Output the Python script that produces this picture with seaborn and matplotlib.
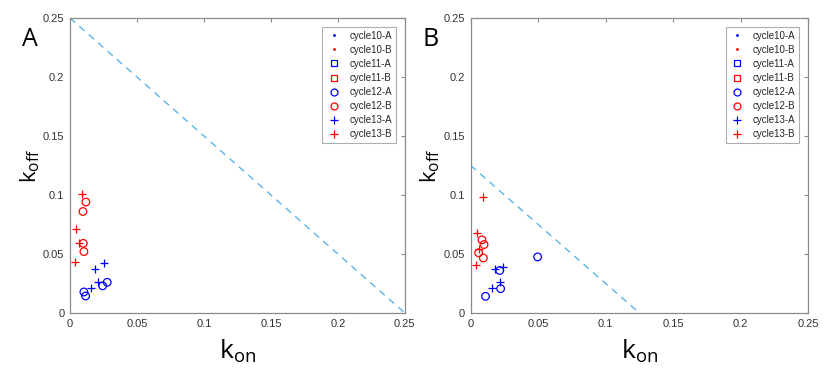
import pandas as pd
import seaborn as sns
import matplotlib.pyplot as plt
from matplotlib.lines import Line2D

# panel A values
a_c12A_kon = [0.0278, 0.0244, 0.0104, 0.0117]
a_c12A_koff = [0.026, 0.023, 0.0178, 0.0144]
a_c12B_kon = [0.0119, 0.0097, 0.0099, 0.0104]
a_c12B_koff = [0.094, 0.086, 0.059, 0.052]
a_c13A_kon = [0.0256, 0.0184, 0.0209, 0.0157]
a_c13A_koff = [0.042, 0.037, 0.0265, 0.0215]
a_c13B_kon = [0.0092, 0.0045, 0.0067, 0.0040]
a_c13B_koff = [0.101, 0.071, 0.059, 0.043]

# panel B
b_c12A_kon = [0.0496, 0.0215, 0.0222, 0.0110]
b_c12A_koff = [0.0475, 0.036, 0.0206, 0.0141]
b_c12B_kon = [0.0084, 0.0099, 0.0059, 0.0094]
b_c12B_koff = [0.062, 0.058, 0.051, 0.0466]
b_c13A_kon = [0.0180, 0.0237, 0.0215, 0.0158]
b_c13A_koff = [0.037, 0.0387, 0.0265, 0.0215]
b_c13B_kon = [0.0094, 0.0047, 0.0062, 0.0042]
b_c13B_koff = [0.0986, 0.068, 0.054, 0.041]

a_line = 0.25
b_line = 0.125
ticks = [0, 0.05, 0.1, 0.15, 0.2, 0.25]
tick_labels = ['0', '0.05', '0.1', '0.15', '0.2', '0.25']
legend_names = ['cycle10-A', 'cycle10-B', 'cycle11-A', 'cycle11-B',
                'cycle12-A', 'cycle12-B', 'cycle13-A', 'cycle13-B']

sns.set_style('white')
plt.rcParams['font.family'] = ['Liberation Sans', 'DejaVu Sans']

BLUE = '#0000FF'
RED = '#FF0000'
LINE = '#5BB5E8'
SPINE = '#8a8a8a'


def make_df(kon, koff, name):
    return pd.DataFrame({'kon': kon, 'koff': koff, 'series': name})


panels = {
    'A': [make_df(a_c12A_kon, a_c12A_koff, 'cycle12-A'),
          make_df(a_c12B_kon, a_c12B_koff, 'cycle12-B'),
          make_df(a_c13A_kon, a_c13A_koff, 'cycle13-A'),
          make_df(a_c13B_kon, a_c13B_koff, 'cycle13-B')],
    'B': [make_df(b_c12A_kon, b_c12A_koff, 'cycle12-A'),
          make_df(b_c12B_kon, b_c12B_koff, 'cycle12-B'),
          make_df(b_c13A_kon, b_c13A_koff, 'cycle13-A'),
          make_df(b_c13B_kon, b_c13B_koff, 'cycle13-B')],
}
lines = {'A': a_line, 'B': b_line}

fig = plt.figure(figsize=(8.31, 3.84), dpi=100)
ax_a = fig.add_axes([0.0842, 0.185, 0.403, 0.768])
ax_b = fig.add_axes([0.5664, 0.185, 0.406, 0.768])

for key, ax in [('A', ax_a), ('B', ax_b)]:
    c = lines[key]
    sns.lineplot(x=[0, c], y=[c, 0], ax=ax, color=LINE, linestyle=(0, (5, 4)),
                 linewidth=1.0)
    for df in panels[key]:
        col = BLUE if df['series'].iloc[0].endswith('A') else RED
        if df['series'].iloc[0].startswith('cycle12'):
            sns.scatterplot(data=df, x='kon', y='koff', ax=ax, marker='o',
                            s=30, facecolor='none', edgecolor=col,
                            linewidth=0.9, zorder=3)
        else:
            sns.scatterplot(data=df, x='kon', y='koff', ax=ax, marker='+',
                            s=40, color=col, linewidth=0.9, zorder=3)

    ax.set_xlim(0, 0.25)
    ax.set_ylim(0, 0.25)
    ax.set_xticks(ticks)
    ax.set_xticklabels(tick_labels)
    ax.set_yticks(ticks)
    ax.set_yticklabels(tick_labels)
    ax.tick_params(direction='in', length=3, width=0.8, colors=SPINE,
                   labelcolor='#333333', labelsize=8, top=True, right=True,
                   pad=4)
    for sp in ax.spines.values():
        sp.set_visible(True)
        sp.set_color(SPINE)
        sp.set_linewidth(0.9)
    ax.set_xlabel(r'$\mathregular{k_{on}}$', fontsize=19, family='Open Sans',
                  color='black')
    ax.xaxis.set_label_coords(0.5, -0.085)
    ax.set_ylabel(r'$\mathregular{k_{off}}$', fontsize=16, family='Open Sans',
                  color='black')
    ax.yaxis.set_label_coords(-0.085, 0.5)

    handles = [
        Line2D([], [], ls='none', marker='.', ms=2, color=BLUE),
        Line2D([], [], ls='none', marker='.', ms=2, color=RED),
        Line2D([], [], ls='none', marker='s', ms=4, mfc='none', mec=BLUE, mew=0.9),
        Line2D([], [], ls='none', marker='s', ms=4, mfc='none', mec=RED, mew=0.9),
        Line2D([], [], ls='none', marker='o', ms=5, mfc='none', mec=BLUE, mew=0.9),
        Line2D([], [], ls='none', marker='o', ms=5, mfc='none', mec=RED, mew=0.9),
        Line2D([], [], ls='none', marker='+', ms=6, color=BLUE, mew=0.9),
        Line2D([], [], ls='none', marker='+', ms=6, color=RED, mew=0.9),
    ]
    leg = ax.legend(handles, legend_names, loc='upper right', fontsize=7,
                    frameon=True, fancybox=False, borderaxespad=0.9,
                    handlelength=1.6, handletextpad=0.8, labelspacing=0.42,
                    borderpad=0.4)
    leg.get_frame().set_edgecolor('#9a9a9a')
    leg.get_frame().set_linewidth(0.8)

fig.text(0.027, 0.93, 'A', fontsize=18, family='Open Sans', va='top',
         color='black')
fig.text(0.508, 0.93, 'B', fontsize=18, family='Open Sans', va='top',
         color='black')

fig.savefig('out.png', dpi=100)
